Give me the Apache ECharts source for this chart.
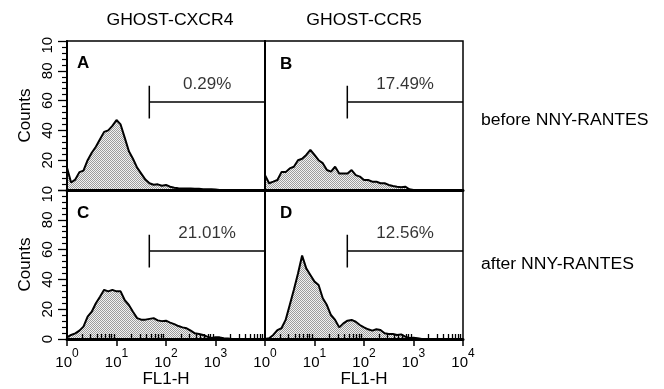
<!DOCTYPE html>
<html><head><meta charset="utf-8">
<script src="https://cdn.jsdelivr.net/npm/echarts@6/dist/echarts.min.js"></script>
<style>html,body{margin:0;padding:0;background:#fff}#c{width:664px;height:389px}</style>
</head><body><div id="c"></div>
<script>
// FL1-H bin positions (log scale)
const fl1Bins = [1, 1.21, 1.47, 1.78, 2.15, 2.61, 3.16, 3.83, 4.64, 5.62, 6.81, 8.25,
  10, 12.1, 14.7, 17.8, 21.5, 26.1, 31.6, 38.3, 46.4, 56.2, 68.1, 82.5,
  100, 121, 147, 178, 215, 261, 316, 383, 464, 562, 681, 825,
  1000, 1210, 1470, 1780, 2150, 2610, 3160, 3830, 4640, 5620, 6810, 8250, 10000];
// Counts per panel
const countsA = [15, 5, 7, 12, 13, 20, 25, 29, 34, 39, 40, 43, 47, 44, 35, 26, 21, 15, 11, 7,
  4.5, 3.5, 3.8, 2.9, 3.4, 2.2, 1.5, 1.2, 1, 1, 1, 0.8, 0.8, 0.5, 0.5, 0.5, 0.3,
  0, 0, 0, 0, 0, 0, 0, 0, 0, 0, 0, 0];
const countsB = [10, 4.5, 5.6, 6.7, 12, 12, 14.5, 15.6, 20, 21, 23.5, 27, 23.5, 20, 18, 13.4,
  12.3, 15.6, 11, 11, 11, 13.4, 10, 9, 6.7, 6.7, 5.6, 5.6, 4.5, 4.5, 3.4, 2.7, 2.2, 1.8, 2.2, 0.5,
  0, 0, 0, 0, 0, 0, 0, 0, 0, 0, 0, 0, 0];
const countsC = [1.1, 2.7, 3.8, 5.6, 8.3, 15, 18.3, 24, 28.4, 33, 32, 33, 32, 32, 26, 22.8,
  18.3, 14, 13, 13, 13.5, 14, 12.5, 12, 12.3, 11, 10, 8.7, 7.8, 7.2, 5.6, 3.8, 3.4, 2.7, 1.6, 0.7,
  1.1, 1.1, 0.5, 0.3, 0, 0, 0, 0, 0, 0, 0, 0, 0];
const countsD = [0, 0.5, 2.7, 6, 7.2, 12.8, 22.8, 33, 44, 56, 47.4, 43, 38.5, 36.2, 27.3, 22.8,
  16.1, 12.8, 7.8, 10.5, 12.3, 12.8, 11.6, 9.4, 7.8, 6.5, 5.6, 6.5, 6, 3.8, 3.4, 3.4, 2.7, 3.1,
  1.6, 0.7, 0.8, 0.5, 0, 0, 0, 0, 0, 0, 0, 0, 0, 0, 0];
const panelCounts = [countsA, countsB, countsC, countsD];
const panelLetters = ['A', 'B', 'C', 'D'];
const gatePercents = ['0.29%', '17.49%', '21.01%', '12.56%'];
const gateStart = 46, gateLevel = 59, gateBarLow = 48, gateBarHigh = 70;
const xMin = 1, xMax = 10000;
const xMajorTicks = [1, 10, 100, 1000, 10000];
const xMinorTicks = [2,3,4,5,6,7,8,9, 20,30,40,50,60,70,80,90, 200,300,400,500,600,700,800,900,
  2000,3000,4000,5000,6000,7000,8000,9000];
const yTickLabels = ['0', '20', '40', '60', '80', '10'];
const columnTitles = ['GHOST-CXCR4', 'GHOST-CCR5'];
const rowTitles = ['before NNY-RANTES', 'after NNY-RANTES'];

const FONT = '"Liberation Sans", Arial, Helvetica, sans-serif';

// stipple fill pattern
const pc = document.createElement('canvas'); pc.width = 2; pc.height = 2;
const g = pc.getContext('2d');
g.fillStyle = '#f2f2f2'; g.fillRect(0, 0, 2, 2);
g.fillStyle = '#9c9c9c'; g.fillRect(0, 0, 1, 1); g.fillRect(1, 1, 1, 1);

const grids = [
  {left: 67, top: 41, width: 198, height: 149},
  {left: 265, top: 41, width: 198, height: 149},
  {left: 67, top: 190, width: 198, height: 149},
  {left: 265, top: 190, width: 198, height: 149}
].map(o => Object.assign(o, {show: true, borderColor: '#000', borderWidth: 1.5, backgroundColor: 'transparent'}));

const xAxes = [], yAxes = [], series = [];
for (let i = 0; i < 4; i++) {
  const bottom = i >= 2, left = i % 2 === 0;
  xAxes.push({
    type: 'log', logBase: 10, gridIndex: i, min: xMin, max: xMax, z: 5,
    axisLine: {show: true, onZero: false, lineStyle: {color: '#000', width: 3}},
    axisTick: bottom ? {show: true, customValues: xMajorTicks, length: 7, lineStyle: {color: '#000', width: 1.5}} : {show: false},
    axisLabel: bottom ? {
      show: true, customValues: (i === 2 ? xMajorTicks.slice(0, 4) : xMajorTicks), margin: 6,
      formatter: v => '{b|10}{s|' + Math.round(Math.log10(v)) + '}',
      rich: {
        b: {fontSize: 15, fontFamily: FONT, color: '#000', padding: [10, 0, 0, 0]},
        s: {fontSize: 12, fontFamily: FONT, color: '#000', padding: [0, 0, 8, 0]}
      }
    } : {show: false},
    splitLine: {show: false},
    name: bottom ? 'FL1-H' : '', nameLocation: 'middle', nameGap: 27,
    nameTextStyle: {fontSize: 17, fontFamily: FONT, color: '#000'}
  });
  yAxes.push({
    type: 'value', gridIndex: i, min: 0, max: 100, interval: 20, z: 5,
    axisLine: {show: true, lineStyle: {color: '#000', width: 2}},
    axisTick: left ? {show: true, length: 9, lineStyle: {color: '#000', width: 1.3}} : {show: false},
    minorTick: left ? {show: true, splitNumber: 5, length: 5, lineStyle: {color: '#000', width: 1.2}} : {show: false},
    axisLabel: left ? {
      show: true, rotate: 90, margin: 12, showMinLabel: i === 2,
      formatter: v => v === 100 ? '{n|10}{h|0}' : '{n|' + yTickLabels[v / 20] + '}',
      rich: {
        n: {fontSize: 15, fontFamily: FONT, color: '#000'},
        h: {fontSize: 15, fontFamily: FONT, color: 'rgba(0,0,0,0)'}
      }
    } : {show: false},
    splitLine: {show: false},
    name: left ? 'Counts' : '', nameLocation: 'middle', nameRotate: 90, nameGap: 33,
    nameTextStyle: {fontSize: 17, fontFamily: FONT, color: '#000'}
  });
  series.push({
    type: 'line', xAxisIndex: i, yAxisIndex: i, z: 2, symbol: 'none', silent: true,
    data: fl1Bins.map((x, j) => [x, panelCounts[i][j]]),
    lineStyle: {color: '#000', width: 2},
    areaStyle: {color: {image: pc, repeat: 'repeat'}, opacity: 1}
  });
  series.push({
    type: 'line', xAxisIndex: i, yAxisIndex: i, z: 3, symbol: 'none', silent: true,
    data: [[gateStart, gateLevel], [xMax, gateLevel]],
    lineStyle: {color: '#000', width: 1.5}
  });
  series.push({
    type: 'line', xAxisIndex: i, yAxisIndex: i, z: 3, symbol: 'none', silent: true,
    data: [[gateStart, gateBarLow], [gateStart, gateBarHigh]],
    lineStyle: {color: '#000', width: 1.5}
  });
  series.push({
    type: 'scatter', xAxisIndex: i, yAxisIndex: i, z: 4, symbolSize: 0, silent: true,
    data: [[Math.sqrt(gateStart * xMax), gateLevel]],
    label: {show: true, position: 'top', distance: 9, formatter: gatePercents[i],
      fontSize: 17, fontFamily: FONT, color: '#000'}
  });
}
// minor log ticks for bottom panels
for (const gi of [2, 3]) {
  xAxes.push({
    type: 'log', logBase: 10, gridIndex: gi, min: xMin, max: xMax, z: 5,
    axisLine: {show: false},
    axisTick: {show: true, customValues: xMinorTicks, length: 5, lineStyle: {color: '#000', width: 1.3}},
    axisLabel: {show: false}, splitLine: {show: false}
  });
}

const graphic = [];
const letterPos = [[77, 63], [280, 64], [77, 213], [280, 213]];
panelLetters.forEach((t, i) => graphic.push({
  type: 'text', x: letterPos[i][0], y: letterPos[i][1], z: 10,
  style: {text: t, font: 'bold 17px ' + FONT, fill: '#000', textAlign: 'left', textVerticalAlign: 'middle', verticalAlign: 'middle'}
}));
const colX = [170, 364];
columnTitles.forEach((t, i) => graphic.push({
  type: 'text', x: colX[i], y: 21, z: 10, scaleX: 1.1,
  style: {text: t, x: 0, y: 0, font: '16px ' + FONT, fill: '#000', textAlign: 'center', textVerticalAlign: 'middle', verticalAlign: 'middle'}
}));
const rowY = [121, 265];
rowTitles.forEach((t, i) => graphic.push({
  type: 'text', x: 481, y: rowY[i], z: 10, scaleX: 1.1,
  style: {text: t, x: 0, y: 0, font: '16px ' + FONT, fill: '#000', textAlign: 'left', textVerticalAlign: 'middle', verticalAlign: 'middle'}
}));

const chart = echarts.init(document.getElementById('c'), null, {renderer: 'canvas'});
chart.setOption({
  animation: false,
  backgroundColor: '#fff',
  grid: grids, xAxis: xAxes, yAxis: yAxes, series: series, graphic: graphic
});
</script></body></html>
